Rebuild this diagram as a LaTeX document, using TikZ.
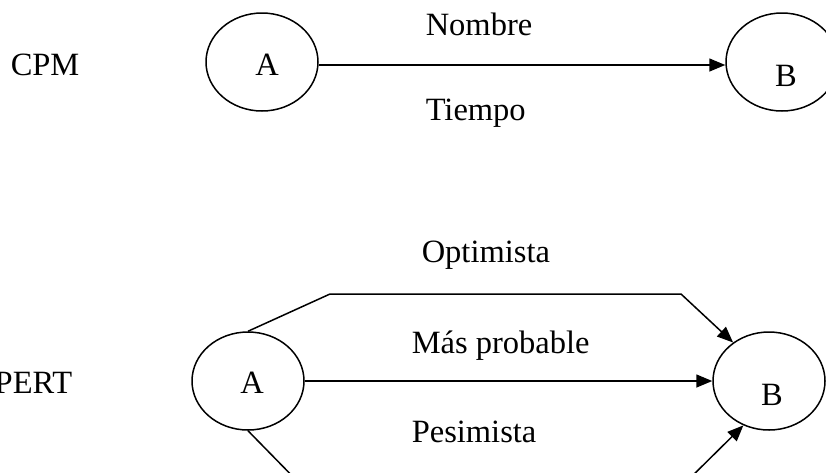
\documentclass[tikz,border=0pt]{standalone}
\usepackage{fontspec}
\setmainfont{Liberation Serif}
\usetikzlibrary{shapes.geometric,arrows.meta}
\begin{document}
\begin{tikzpicture}[x=1pt,y=-1pt,
  line width=1.5pt,
  evt/.style={draw,ellipse,minimum width=112pt,minimum height=98pt,inner sep=0pt},
  lbl/.style={inner sep=0pt,font=\fontsize{32.5}{32.5}\selectfont},
  arr/.style={-{Triangle[length=16pt,width=13pt]}}]
\useasboundingbox (0,0) rectangle (826,472);
\clip (0,0) rectangle (826,472);
% CPM
\node[lbl,anchor=base west] (cpm) at (10,75) {CPM};
\node[evt] (a1) at (262,62) {};
\node[evt] (b1) at (782,62) {};
\node[lbl,anchor=base] (ta1) at (267,75) {A};
\node[lbl,anchor=base] (tb1) at (786,86) {B};
\node[lbl,anchor=base west] (nom) at (425,35) {Nombre};
\node[lbl,anchor=base west] (tie) at (425,120) {Tiempo};
\draw[arr] (a1.east |- 0,65) coordinate (s1) -- (s1 -| b1.west);
% PERT
\node[lbl,anchor=base east] (pert) at (73,393) {PERT};
\node[evt] (a2) at (248,381) {};
\node[evt] (b2) at (769,381) {};
\node[lbl,anchor=base] (ta2) at (252,393) {A};
\node[lbl,anchor=base] (tb2) at (772,405) {B};
\node[lbl,anchor=base west] (opt) at (421,262) {Optimista};
\node[lbl,anchor=base west] (mas) at (411,353) {Más probable};
\node[lbl,anchor=base west] (pes) at (411,442) {Pesimista};
\coordinate (o1) at (330,294);
\coordinate (o2) at (681,294);
\coordinate (p1) at (306,490);
\coordinate (p2) at (678,490);
\draw[arr] (a2.north) -- (o1) -- (o2) -- (b2.133);
\draw[arr] (a2.east) -- (b2.west);
\draw[arr] (a2.south) -- (p1) -- (p2) -- (b2.-120);
\end{tikzpicture}
\end{document}
